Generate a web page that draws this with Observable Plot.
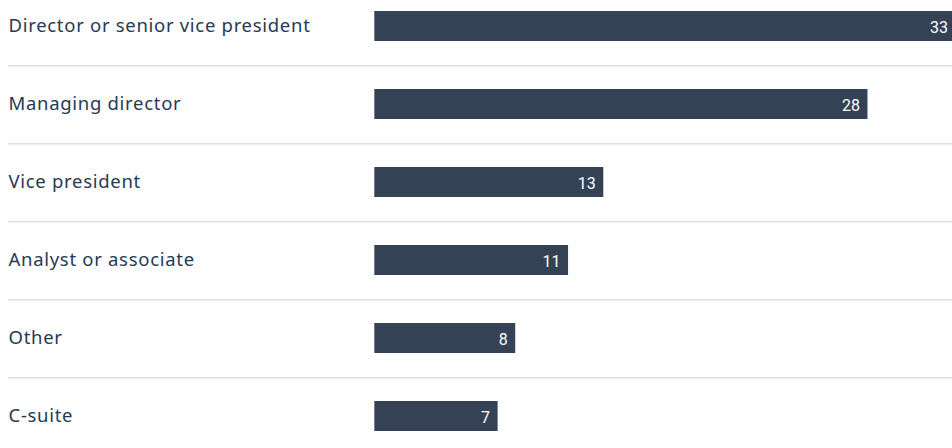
<!DOCTYPE html>
<html>
<head>
<meta charset="utf-8">
<script src="https://cdn.jsdelivr.net/npm/d3@7"></script>
<script src="https://cdn.jsdelivr.net/npm/@observablehq/plot@0.6"></script>
<style>
  html, body { margin: 0; padding: 0; background: #fff; }
  #chart svg { display: block; }
</style>
</head>
<body>
<div id="chart"></div>
<script>
const categories = [
  "Director or senior vice president",
  "Managing director",
  "Vice president",
  "Analyst or associate",
  "Other",
  "C-suite"
];
const values = [33, 28, 13, 11, 8, 7];

const data = categories.map((c, i) => ({category: c, value: values[i]}));

const step = 78.58;
const chart = Plot.plot({
  width: 952,
  height: 448,
  marginLeft: 8,
  marginRight: 0,
  marginTop: 0,
  marginBottom: 0,
  style: {background: "#fff"},
  x: {domain: [-20.8, 32.8], axis: null},
  y: {domain: categories, range: [-14.95, -14.95 + 6 * step], paddingInner: 0.612, paddingOuter: 0.306, axis: null},
  marks: [
    Plot.ruleY(categories.slice(0, -1), {y: d => d, dy: step / 2, stroke: "#dedede", strokeWidth: 1.5}),
    Plot.barX(data, {y: "category", x1: 0, x2: "value", fill: "#354256"}),
    Plot.text(data, {
      y: "category", frameAnchor: "left", textAnchor: "start", text: "category",
      fill: "#263a53", fontSize: 18.5, fontFamily: "'Noto Sans', 'Open Sans', sans-serif"
    }),
    Plot.text(data, {
      y: "category", x: "value", text: d => String(d.value), textAnchor: "end", dx: -8, dy: 1,
      fill: "#ffffff", fontSize: 16, fontFamily: "Roboto, 'Liberation Sans', sans-serif"
    })
  ]
});
// widen the category labels (Avenir-like spacing)
d3.select(chart).selectAll("text")
  .filter(function() { return categories.includes(this.textContent); })
  .attr("letter-spacing", "0.7")
  .style("letter-spacing", "0.7px");
document.getElementById("chart").appendChild(chart);
</script>
</body>
</html>
